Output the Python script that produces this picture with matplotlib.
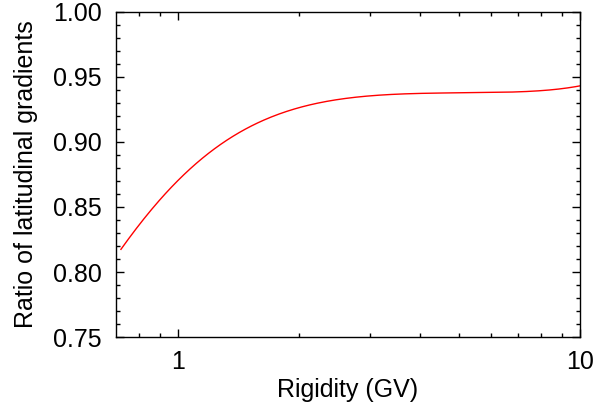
import matplotlib
matplotlib.use('Agg')
import matplotlib.pyplot as plt
import numpy as np
from matplotlib.ticker import FixedLocator, MultipleLocator, NullFormatter

plt.rcParams['font.family'] = ['Liberation Sans', 'DejaVu Sans']

# valores
rigidity = [0.72, 0.82, 0.99, 1.20, 1.45, 1.76, 2.13, 2.68, 3.24, 3.92, 4.75, 5.23, 6.32, 7.65, 10.0]
ratio = [0.8177, 0.840, 0.8695, 0.8925, 0.909, 0.9208, 0.928, 0.9341, 0.9367, 0.9374, 0.9377, 0.9376, 0.9379, 0.9395, 0.9431]

# curva suave en log(x)
lx = np.log10(rigidity)
coef = np.polyfit(lx, ratio, 6)
xs = np.logspace(np.log10(rigidity[0]), 1, 300)
ys = np.polyval(coef, np.log10(xs))

fig = plt.figure(figsize=(6.08, 4.13), dpi=100)
ax = fig.add_axes([0.1908, 0.184, 0.7632, 0.787])
ax.plot(xs, ys, color='red', linewidth=1.0)

ax.set_xscale('log')
ax.set_xlim(0.70, 10)
ax.set_ylim(0.75, 1.00)
ax.xaxis.set_major_locator(FixedLocator([1, 10]))
ax.set_xticklabels(['1', '10'])
ax.xaxis.set_minor_locator(FixedLocator([0.8, 0.9, 2, 3, 4, 5, 6, 7, 8, 9]))
ax.xaxis.set_minor_formatter(NullFormatter())
ax.yaxis.set_major_locator(MultipleLocator(0.05))
ax.yaxis.set_minor_locator(MultipleLocator(0.01))
ax.yaxis.set_major_formatter(plt.FormatStrFormatter('%.2f'))

ax.tick_params(which='both', direction='in', top=True, right=True, labelsize=18, width=1)
ax.tick_params(which='major', length=6, pad=10)
ax.tick_params(axis='x', which='major', pad=9)
ax.tick_params(which='minor', length=3)
for s in ax.spines.values():
    s.set_linewidth(1)

ax.set_xlabel('Rigidity (GV)', fontsize=18)
ax.set_ylabel('Ratio of latitudinal gradients', fontsize=18)
ax.xaxis.set_label_coords(0.5, -0.126)
ax.yaxis.set_label_coords(-0.168, 0.5)

fig.savefig('out.png', dpi=100)
